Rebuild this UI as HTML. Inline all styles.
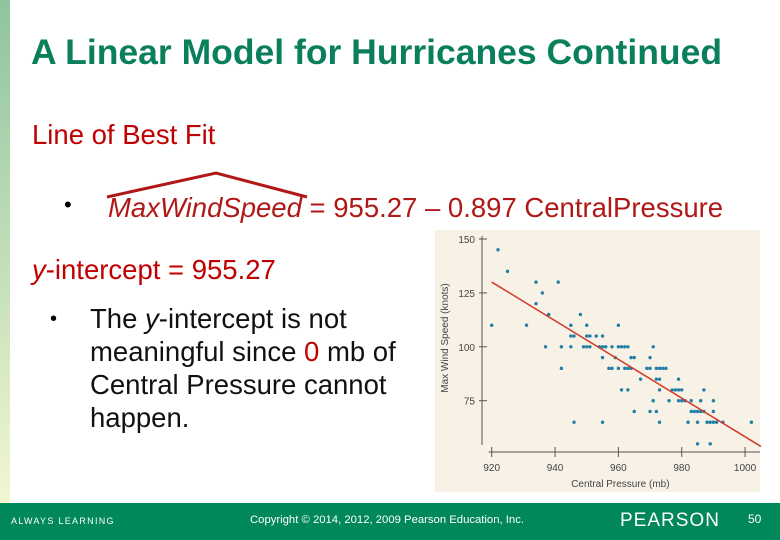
<!DOCTYPE html>
<html><head><meta charset="utf-8"><style>
body{margin:0;width:780px;height:540px;overflow:hidden;background:#fff;font-family:"Liberation Sans",sans-serif;position:relative}
.abs{position:absolute;white-space:nowrap}
</style></head><body>
<div class="abs" style="left:0;top:0;width:10px;height:503px;background:linear-gradient(#8fc4a0,#f2f7d0)"></div>
<div class="abs" style="left:31px;top:31px;font-size:35.5px;line-height:42px;font-weight:bold;color:#0a7f5c">A Linear Model for Hurricanes Continued</div>
<div class="abs" style="left:32px;top:119px;font-size:27.5px;line-height:32px;color:#c00000">Line of Best Fit</div>
<div class="abs" style="left:64px;top:192px;font-size:22px">•</div>
<svg class="abs" style="left:0;top:0" width="780" height="540"><polyline points="107,197 216,173 307,197" fill="none" stroke="#b01818" stroke-width="3"/></svg>
<div class="abs" style="left:108px;top:192px;font-size:27.5px;line-height:32px;color:#b01818"><i>MaxWindSpeed</i> = 955.27 – 0.897 CentralPressure</div>
<div class="abs" style="left:32px;top:254px;font-size:27.5px;line-height:32px;color:#c00000"><i>y</i>-intercept = 955.27</div>
<div class="abs" style="left:50px;top:308px;font-size:20px">•</div>
<div class="abs" style="left:90px;top:302px;font-size:27.5px;line-height:33px;color:#111">The <i>y</i>-intercept is not<br>meaningful since <span style="color:#c00000">0</span> mb of<br>Central Pressure cannot<br>happen.</div>

<svg id="chart" class="abs" style="left:0;top:0" width="780" height="540"></svg>

<div class="abs" style="left:0;top:503px;width:780px;height:37px;background:#00875a;color:#fff">
<div class="abs" style="left:11px;top:13px;font-size:9px;letter-spacing:1.3px">ALWAYS LEARNING</div>
<div class="abs" style="left:250px;top:11px;font-size:11.3px">Copyright © 2014, 2012, 2009 Pearson Education, Inc.</div>
<div class="abs" style="left:620px;top:7px;font-size:19px;letter-spacing:1px">PEARSON</div>
<div class="abs" style="left:748px;top:9px;font-size:12px">50</div>
</div>
<script>
const pressure=[920,922,925,931,934,934,936,937,938,941,942,942,945,945,946,945,946,948,950,950,949,950,951,951,953,954,955,955,955,955,956,957,958,958,959,960,960,961,962,963,960,962,963,964,961,963,964,965,965,967,969,970,970,971,971,970,972,972,973,974,975,972,973,973,973,976,977,978,979,979,980,979,980,981,982,983,983,984,985,986,986,985,985,987,987,988,989,989,990,990,990,991,993,1002];
const windSpeed=[110,145,135,110,130,120,125,100,115,130,100,90,110,105,105,100,65,115,110,105,100,100,100,105,105,100,105,100,95,65,100,90,90,100,95,110,100,100,100,100,90,90,90,90,80,80,95,95,70,85,90,90,95,100,75,70,70,90,90,90,90,85,85,80,65,75,80,80,85,80,80,75,75,75,65,75,70,70,70,70,75,65,55,80,70,65,65,55,75,70,65,65,65,65];
const xTicks=[920,940,960,980,1000];
const yTicks=[75,100,125,150];
const intercept=955.27, slope=-0.897;
const X=v=>491.7+(v-920)*3.167;
const Y=v=>239+(150-v)*2.156;
const svg=document.getElementById('chart');
const NS='http://www.w3.org/2000/svg';
function mk(t,a){const e=document.createElementNS(NS,t);for(const k in a)e.setAttribute(k,a[k]);svg.appendChild(e);return e;}
let e;
e=mk('rect',{x:435,y:230,width:325,height:262,fill:'#f8f1e6'});


e=mk('line',{x1:482,y1:Y(150)-3,x2:482,y2:445,stroke:'#555','stroke-width':1});


e=mk('line',{x1:X(920)-3,y1:452,x2:760,y2:452,stroke:'#555','stroke-width':1});


yTicks.forEach(t=>{
 e=mk('line',{x1:479,y1:Y(t),x2:487,y2:Y(t),stroke:'#555'});
 
 
 e=mk('text',{x:475,y:Y(t)+4,'text-anchor':'end','font-size':10,fill:'#444','font-family':'Liberation Sans'});e.textContent=t;
 
 
});
xTicks.forEach(t=>{
 e=mk('line',{x1:X(t),y1:447,x2:X(t),y2:457,stroke:'#555'});
 
 
 e=mk('text',{x:X(t),y:471,'text-anchor':'middle','font-size':10,fill:'#444','font-family':'Liberation Sans'});e.textContent=t;
 
 
});
e=mk('text',{x:X(960)+2,y:487,'text-anchor':'middle','font-size':10,fill:'#444','font-family':'Liberation Sans'});e.textContent='Central Pressure (mb)';


e=mk('text',{x:0,y:0,'text-anchor':'middle','font-size':10,fill:'#444','font-family':'Liberation Sans',transform:'translate(448,338) rotate(-90)'});e.textContent='Max Wind Speed (knots)';


pressure.forEach((p,i)=>{
 e=mk('circle',{cx:X(p),cy:Y(windSpeed[i]),r:1.7,fill:'#1f7fa6'});
 
 
});
const x0=920,x1=1005;
e=mk('line',{x1:X(x0),y1:Y(intercept+slope*x0),x2:X(x1),y2:Y(intercept+slope*x1),stroke:'#d23a2a','stroke-width':1.5});


</script>
</body></html>
